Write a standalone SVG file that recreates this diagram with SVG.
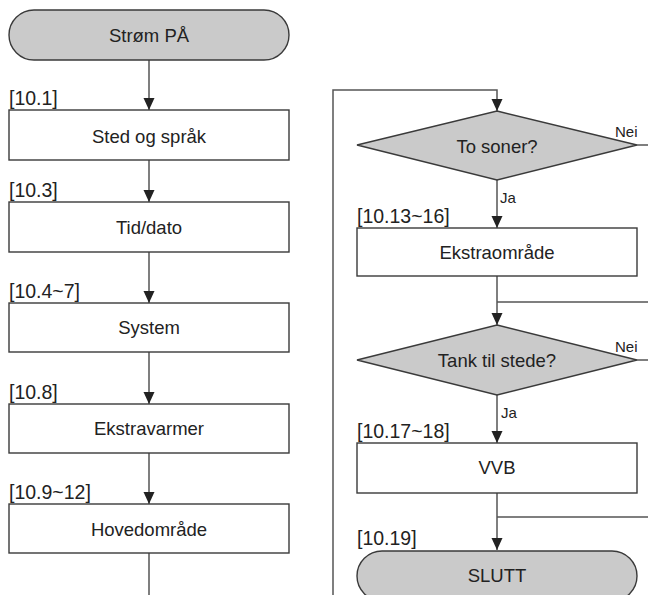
<svg xmlns="http://www.w3.org/2000/svg" width="648" height="595" viewBox="0 0 648 595">
<style>
.box{fill:#ffffff;stroke:#3a3a3a;stroke-width:1.4}
.term{fill:#cacaca;stroke:#3a3a3a;stroke-width:1.4}
.dia{fill:#cacaca;stroke:#3a3a3a;stroke-width:1.4}
.t{font-family:"Liberation Sans",Arial,sans-serif;font-size:18.5px;fill:#222;text-anchor:middle}
.lbl{font-family:"Liberation Sans",Arial,sans-serif;font-size:19.5px;fill:#222}
.sm{font-family:"Liberation Sans",Arial,sans-serif;font-size:15px;fill:#222}
.c{fill:none;stroke:#555;stroke-width:1.5}
.ah{fill:#222}
</style>
<g id="connectors">
<path class="c" d="M149,60 V110"/>
<path class="c" d="M149,160 V202"/>
<path class="c" d="M149,252 V303"/>
<path class="c" d="M149,352 V404"/>
<path class="c" d="M149,453 V504"/>
<path class="c" d="M149,553 V595"/>
<path class="c" d="M333,595 V90 H497 V111"/>
<path class="c" d="M497,180 V228"/>
<path class="c" d="M637,145 H648"/>
<path class="c" d="M497,276 V325"/>
<path class="c" d="M497,302 H648"/>
<path class="c" d="M637,360 H648"/>
<path class="c" d="M497,395 V443"/>
<path class="c" d="M497,493 V550"/>
<path class="c" d="M497,517 H648"/>
<path class="ah" d="M143.5,98 H154.5 L149,110 Z"/>
<path class="ah" d="M143.5,190 H154.5 L149,202 Z"/>
<path class="ah" d="M143.5,291 H154.5 L149,303 Z"/>
<path class="ah" d="M143.5,392 H154.5 L149,404 Z"/>
<path class="ah" d="M143.5,492 H154.5 L149,504 Z"/>
<path class="ah" d="M491.5,99 H502.5 L497,111 Z"/>
<path class="ah" d="M491.5,216 H502.5 L497,228 Z"/>
<path class="ah" d="M491.5,313 H502.5 L497,325 Z"/>
<path class="ah" d="M491.5,431 H502.5 L497,443 Z"/>
<path class="ah" d="M491.5,538 H502.5 L497,550 Z"/>
<text class="sm" x="615" y="137">Nei</text>
<text class="sm" x="615" y="352">Nei</text>
<text class="sm" x="500" y="203">Ja</text>
<text class="sm" x="501" y="418">Ja</text>
</g>
<g id="start">
<rect class="term" x="9" y="10" width="280" height="50" rx="25" ry="25"/>
<text class="t" x="149" y="42">Strøm PÅ</text>
</g>
<g id="sted">
<text class="lbl" x="9" y="105">[10.1]</text>
<rect class="box" x="9" y="110" width="280" height="50"/>
<text class="t" x="149" y="143">Sted og språk</text>
</g>
<g id="tid">
<text class="lbl" x="9" y="197">[10.3]</text>
<rect class="box" x="9" y="202" width="280" height="50"/>
<text class="t" x="149" y="234">Tid/dato</text>
</g>
<g id="system">
<text class="lbl" x="9" y="298">[10.4~7]</text>
<rect class="box" x="9" y="303" width="280" height="49"/>
<text class="t" x="149" y="334">System</text>
</g>
<g id="ekstravarmer">
<text class="lbl" x="9" y="399">[10.8]</text>
<rect class="box" x="9" y="404" width="280" height="49"/>
<text class="t" x="149" y="435">Ekstravarmer</text>
</g>
<g id="hovedomrade">
<text class="lbl" x="9" y="499">[10.9~12]</text>
<rect class="box" x="9" y="504" width="280" height="49"/>
<text class="t" x="149" y="536">Hovedområde</text>
</g>
<g id="tosoner">
<polygon class="dia" points="497,111 637,145 497,180 357,145"/>
<text class="t" x="497" y="153">To soner?</text>
</g>
<g id="ekstraomrade">
<text class="lbl" x="357" y="223">[10.13~16]</text>
<rect class="box" x="357" y="228" width="280" height="48"/>
<text class="t" x="497" y="259">Ekstraområde</text>
</g>
<g id="tank">
<polygon class="dia" points="497,325 637,360 497,395 357,360"/>
<text class="t" x="497" y="367">Tank til stede?</text>
</g>
<g id="vvb">
<text class="lbl" x="357" y="438">[10.17~18]</text>
<rect class="box" x="357" y="443" width="280" height="50"/>
<text class="t" x="497" y="474">VVB</text>
</g>
<g id="slutt">
<text class="lbl" x="357" y="545">[10.19]</text>
<rect class="term" x="357" y="551" width="280" height="50" rx="25" ry="25"/>
<text class="t" x="497" y="582">SLUTT</text>
</g>
</svg>
